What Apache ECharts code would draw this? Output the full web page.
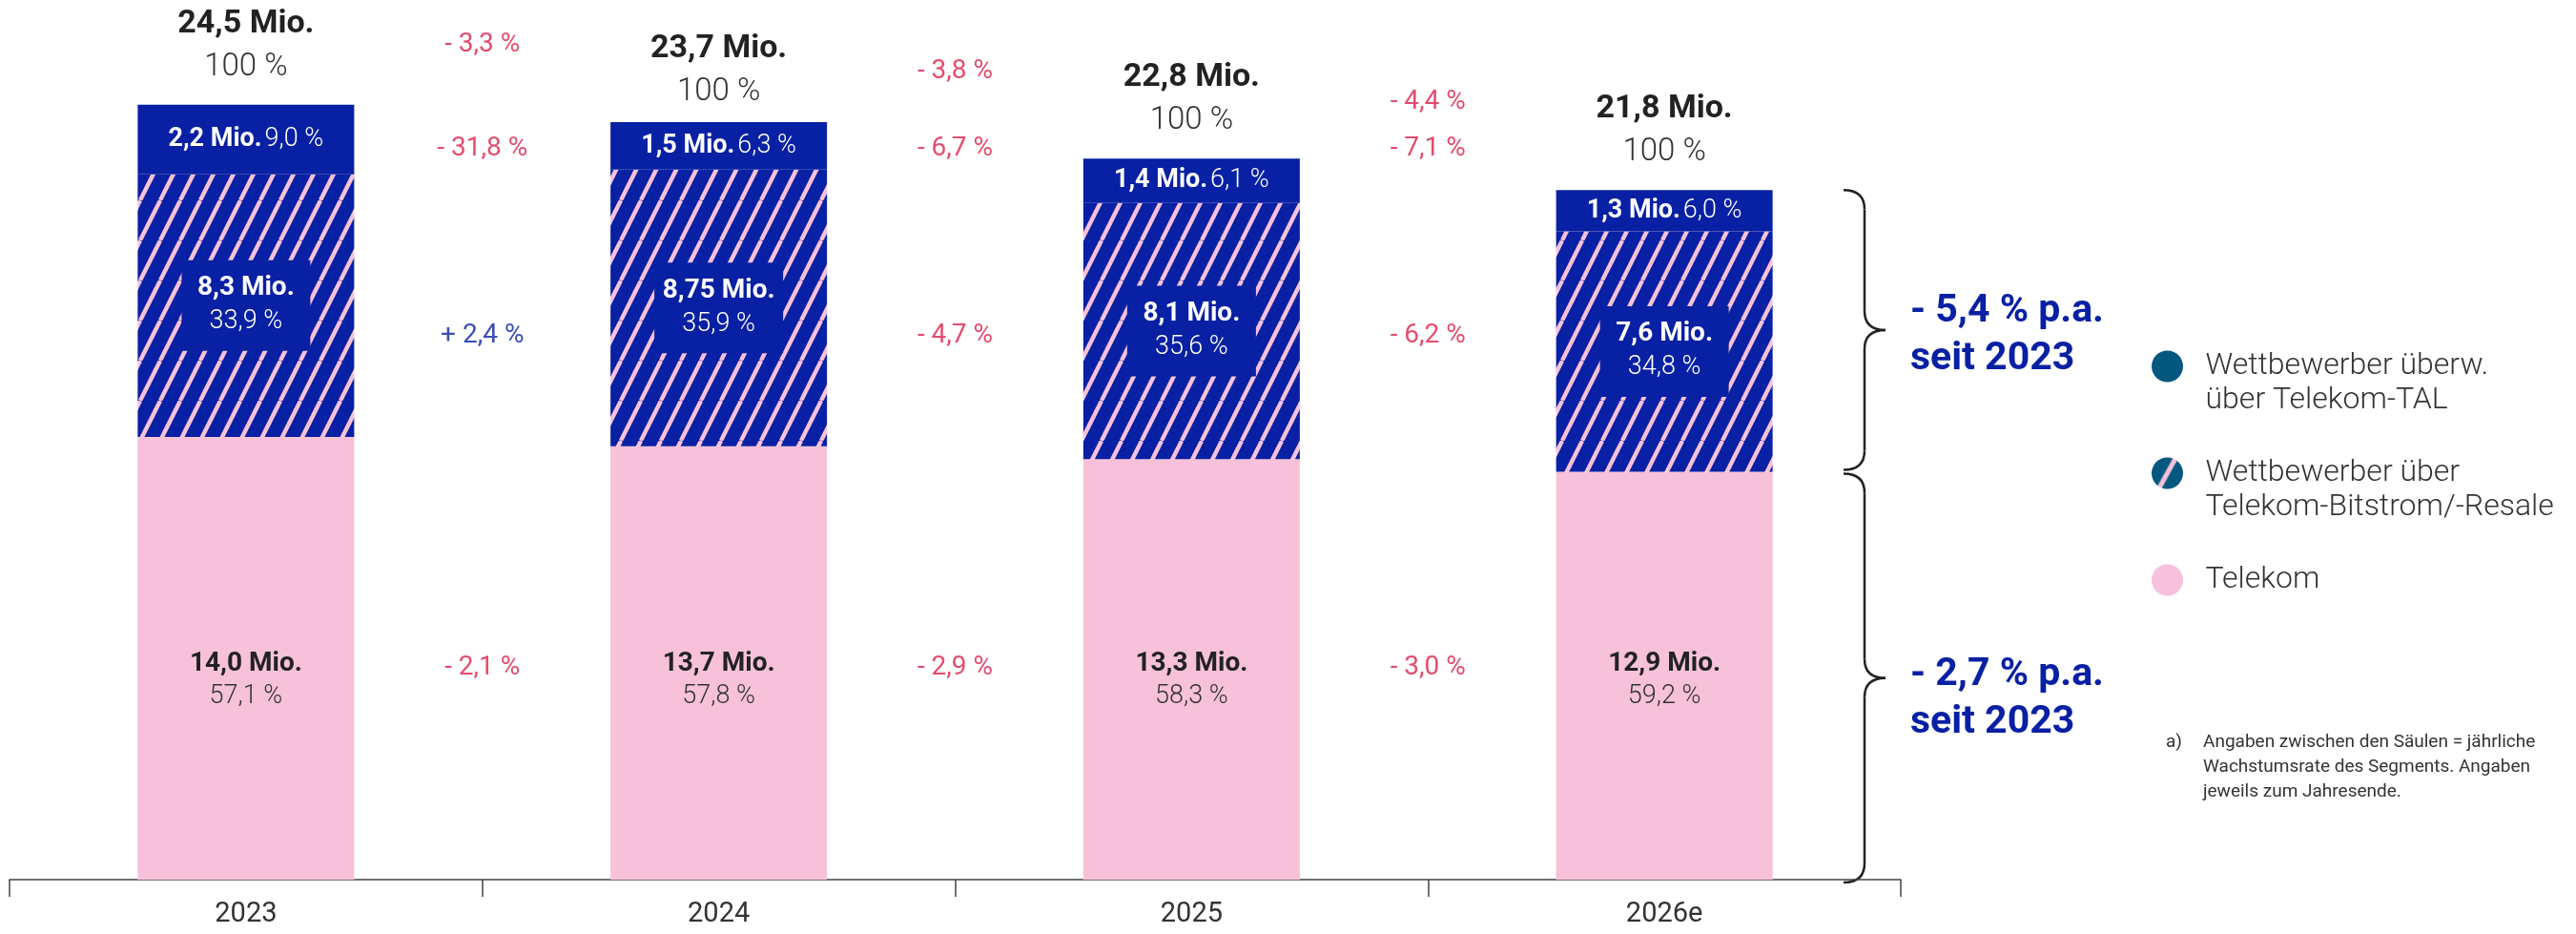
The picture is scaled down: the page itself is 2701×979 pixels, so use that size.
<!DOCTYPE html>
<html>
<head>
<meta charset="utf-8">
<title>Breitbandanschlüsse</title>
<script src="https://cdn.jsdelivr.net/npm/echarts@6/dist/echarts.min.js"></script>
<style>
  html, body { margin: 0; padding: 0; background: #fff; }
  #main { width: 2701px; height: 979px; }
</style>
</head>
<body>
<div id="main"></div>
<script type="text/javascript">
// Daten (Mio. Anschlüsse, jeweils zum Jahresende)
var years = ['2023', '2024', '2025', '2026e'];
var telekom = [14.0, 13.7, 13.3, 12.9];
var bitstrom = [8.3, 8.75, 8.1, 7.6];
var tal = [2.2, 1.5, 1.4, 1.3];
var totals = [24.5, 23.7, 22.8, 21.8];
var telekomShare = [57.1, 57.8, 58.3, 59.2];
var bitstromShare = [33.9, 35.9, 35.6, 34.8];
var talShare = [9.0, 6.3, 6.1, 6.0];
// jährliche Wachstumsraten zwischen den Säulen
var growthTotal = [-3.3, -3.8, -4.4];
var growthTal = [-31.8, -6.7, -7.1];
var growthBitstrom = [2.4, -4.7, -6.2];
var growthTelekom = [-2.1, -2.9, -3.0];
var cagrCompetitors = -5.4;
var cagrTelekom = -2.7;

var talName = 'Wettbewerber überw.\nüber Telekom-TAL';
var bitName = 'Wettbewerber über\nTelekom-Bitstrom/-Resale';

var blue = '#0820a3';
var pink = '#f6c1d9';
var teal = '#04587f';
var red = '#dc1f49';
var font = 'Roboto, "Noto Sans", sans-serif';

function de(v) {
    var s = (Math.round(v * 100) % 10 !== 0) ? v.toFixed(2) : v.toFixed(1);
    return s.replace('.', ',');
}
function rate(v) {
    return (v < 0 ? '- ' : '+ ') + de(Math.abs(v)) + ' %';
}

// Schraffur als Kachel
function stripes(bg, fg, w, h, lw) {
    var c = document.createElement('canvas');
    c.width = w; c.height = h;
    var ctx = c.getContext('2d');
    ctx.fillStyle = bg;
    ctx.fillRect(0, 0, w, h);
    ctx.strokeStyle = fg;
    ctx.lineWidth = lw;
    for (var k = -1; k <= 1; k++) {
        ctx.beginPath();
        ctx.moveTo(k * w, h);
        ctx.lineTo(k * w + w, 0);
        ctx.stroke();
    }
    return c;
}
var hatch = stripes(blue, pink, 21, 42, 4.4);
var legendHatch = stripes(teal, pink, 22, 40, 5);

// Position der Wachstumsraten (Zeilenhöhe in Achsenwerten)
var rowLevels = [null, 23.1, 17.2, 6.7];
var growthData = [];
[growthTotal, growthTal, growthBitstrom, growthTelekom].forEach(function (arr, r) {
    arr.forEach(function (v, i) {
        var y = r === 0 ? (totals[i] + totals[i + 1]) / 2 + 2.3 : rowLevels[r];
        growthData.push({ value: [i + 1, y], rate: v, label: { color: v < 0 ? red : blue } });
    });
});

var myChart = echarts.init(document.getElementById('main'));
var barW = 227;
var option = {
    animation: false,
    textStyle: { fontFamily: font },
    grid: { left: 10, right: 708, top: 27, bottom: 57 },
    xAxis: [
        {
            type: 'category',
            data: years,
            axisLine: { lineStyle: { color: '#444', width: 1.5 } },
            axisTick: { show: true, length: 18, lineStyle: { color: '#444', width: 1.5 } },
            axisLabel: { fontSize: 29, color: '#333', margin: 22, fontFamily: font }
        },
        { type: 'value', min: 0, max: 4, show: false }
    ],
    yAxis: {
        type: 'value', min: 0, max: 27, show: false,
        splitLine: { show: false }
    },
    legend: {
        orient: 'vertical',
        left: 2256,
        top: 330,
        padding: 0,
        itemWidth: 70,
        itemHeight: 33,
        itemGap: 4,
        icon: 'circle',
        selectedMode: false,
        formatter: function (name) {
            // erste Zeile auf Höhe des Kreises, alle Einträge gleich hoch
            return name.indexOf('\n') >= 0 ? '\n' + name : '\n' + name + '\n';
        },
        textStyle: { fontSize: 32, color: '#333', fontWeight: 300, lineHeight: 36, fontFamily: font },
        data: [
            { name: talName, itemStyle: { color: teal } },
            { name: bitName, itemStyle: { color: { image: legendHatch, repeat: 'repeat' } } },
            { name: 'Telekom', itemStyle: { color: pink } }
        ]
    },
    series: [
        {
            name: 'Telekom',
            type: 'bar',
            stack: 'markt',
            barWidth: barW,
            barGap: '-100%',
            data: telekom,
            itemStyle: { color: pink },
            label: {
                show: true,
                position: 'insideBottom',
                distance: 174,
                textBorderWidth: 0,
                formatter: function (p) {
                    return '{b|' + de(p.value) + ' Mio.}\n{r|' + de(telekomShare[p.dataIndex]) + ' %}';
                },
                rich: {
                    b: { fontSize: 28, fontWeight: 'bold', color: '#222', lineHeight: 35, fontFamily: font },
                    r: { fontSize: 27, fontWeight: 300, color: '#333', lineHeight: 35, fontFamily: font }
                }
            }
        },
        {
            name: bitName,
            type: 'bar',
            stack: 'markt',
            barWidth: barW,
            barGap: '-100%',
            data: bitstrom,
            itemStyle: { color: { image: hatch, repeat: 'repeat' } },
            label: {
                show: true,
                position: 'inside',
                backgroundColor: blue,
                width: 135,
                padding: [12, 0, 13, 0],
                align: 'center',
                textBorderWidth: 0,
                formatter: function (p) {
                    return '{b|' + de(p.value) + ' Mio.}\n{r|' + de(bitstromShare[p.dataIndex]) + ' %}';
                },
                rich: {
                    b: { fontSize: 28, fontWeight: 'bold', color: '#fff', lineHeight: 35, align: 'center', fontFamily: font },
                    r: { fontSize: 27, fontWeight: 300, color: '#fff', lineHeight: 35, align: 'center', fontFamily: font }
                }
            }
        },
        {
            name: talName,
            type: 'bar',
            stack: 'markt',
            barWidth: barW,
            barGap: '-100%',
            data: tal,
            itemStyle: { color: blue },
            label: {
                show: true,
                position: 'inside',
                textBorderWidth: 0,
                formatter: function (p) {
                    return '{b|' + de(p.value) + ' Mio.} {r|' + de(talShare[p.dataIndex]) + ' %}';
                },
                rich: {
                    b: { fontSize: 27, fontWeight: 'bold', color: '#fff', fontFamily: font },
                    r: { fontSize: 27, fontWeight: 300, color: '#fff', fontFamily: font }
                }
            }
        },
        {
            name: 'Gesamt',
            type: 'bar',
            barWidth: barW,
            barGap: '-100%',
            silent: true,
            data: totals,
            itemStyle: { color: 'rgba(0,0,0,0)' },
            label: {
                show: true,
                position: 'top',
                distance: 17,
                formatter: function (p) {
                    return '{t|' + de(p.value) + ' Mio.}\n{p|100 %}';
                },
                rich: {
                    t: { fontSize: 34, fontWeight: 'bold', color: '#222', lineHeight: 45, fontFamily: font },
                    p: { fontSize: 33, fontWeight: 300, color: '#333', lineHeight: 45, fontFamily: font }
                }
            }
        },
        {
            name: 'Wachstum',
            type: 'scatter',
            xAxisIndex: 1,
            yAxisIndex: 0,
            symbolSize: 0,
            silent: true,
            data: growthData,
            label: {
                show: true,
                position: 'inside',
                fontSize: 28,
                fontFamily: font,
                textBorderWidth: 0,
                formatter: function (p) { return rate(p.data.rate); }
            }
        }
    ]
};
myChart.setOption(option);

// Klammern rechts, an den Säulenwerten 2026e ausgerichtet
function py(v) { return myChart.convertToPixel({ yAxisIndex: 0 }, v); }
function brace(yTop, yBot) {
    var x0 = 1933, xs = 1955, xt = 1977, r = 20;
    var yMid = (yTop + yBot) / 2;
    var st = { stroke: '#222', lineWidth: 2.5, fill: null };
    return [
        { type: 'bezierCurve', shape: { x1: x0, y1: yTop, x2: xs, y2: yTop + r, cpx1: xs, cpy1: yTop }, style: st },
        { type: 'line', shape: { x1: xs, y1: yTop + r, x2: xs, y2: yMid - r }, style: st },
        { type: 'bezierCurve', shape: { x1: xs, y1: yMid - r, x2: xt, y2: yMid, cpx1: xs, cpy1: yMid }, style: st },
        { type: 'bezierCurve', shape: { x1: xt, y1: yMid, x2: xs, y2: yMid + r, cpx1: xs, cpy1: yMid }, style: st },
        { type: 'line', shape: { x1: xs, y1: yMid + r, x2: xs, y2: yBot - r }, style: st },
        { type: 'bezierCurve', shape: { x1: xs, y1: yBot - r, x2: x0, y2: yBot, cpx1: xs, cpy1: yBot }, style: st }
    ];
}
var last = years.length - 1;
var yStackTop = py(telekom[last] + bitstrom[last] + tal[last]);
var yPinkTop = py(telekom[last]);
var yBase = py(0);
var upMid = (yStackTop + yPinkTop - 2) / 2;
var lowMid = (yPinkTop + 2 + yBase + 3) / 2;
var bigText = { fontSize: 41, fontWeight: 'bold', fill: blue, lineHeight: 50, fontFamily: font };

var elements = []
    .concat(brace(yStackTop, yPinkTop - 2))
    .concat(brace(yPinkTop + 2, yBase + 3))
    .concat([
        { type: 'text', x: 2003, y: upMid - 44, style: Object.assign({ text: rate(cagrCompetitors) + ' p.a.\nseit 2023' }, bigText) },
        { type: 'text', x: 2003, y: lowMid - 28, style: Object.assign({ text: rate(cagrTelekom) + ' p.a.\nseit 2023' }, bigText) },
        { type: 'text', x: 2271, y: 765, style: { text: 'a)', fontSize: 19, fill: '#333', lineHeight: 26, fontFamily: font } },
        { type: 'text', x: 2310, y: 765, style: {
            text: 'Angaben zwischen den Säulen = jährliche\nWachstumsrate des Segments. Angaben\njeweils zum Jahresende.',
            fontSize: 19, fill: '#333', lineHeight: 26, fontFamily: font } }
    ]);
myChart.setOption({ graphic: { elements: elements } });
</script>
</body>
</html>
